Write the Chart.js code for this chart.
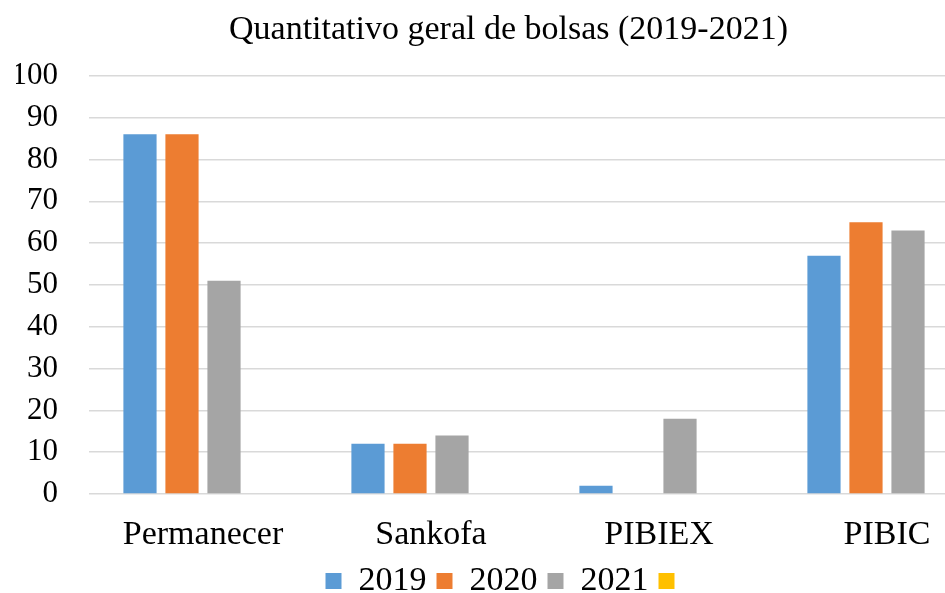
<!DOCTYPE html>
<html>
<head>
<meta charset="utf-8">
<script src="https://cdn.jsdelivr.net/npm/chart.js@4.4.1/dist/chart.umd.min.js"></script>
<style>
  html, body { margin: 0; padding: 0; background: #fff; overflow: hidden; }
  #wrap { width: 945px; height: 593px; overflow: hidden; }
</style>
</head>
<body>
<div id="wrap"><canvas id="myChart" width="1020" height="608"></canvas></div>
<script>
// Data
const categories = ['Permanecer', 'Sankofa', 'PIBIEX', 'PIBIC'];
const years = ['2019', '2020', '2021', ''];
const values2019 = [86, 12, 2, 57];
const values2020 = [86, 12, 0, 65];
const values2021 = [51, 14, 18, 63];
const valuesExtra = [null, null, null, null];
const yTicks = [0, 10, 20, 30, 40, 50, 60, 70, 80, 90, 100];

const colors = ['#5B9BD5', '#ED7D31', '#A5A5A5', '#FFC000'];
const serif = "'Liberation Serif', 'DejaVu Serif', serif";

const ctx = document.getElementById('myChart').getContext('2d');

new Chart(ctx, {
    type: 'bar',
    data: {
        labels: categories,
        datasets: [values2019, values2020, values2021, valuesExtra].map((vals, i) => ({
            label: years[i],
            data: vals,
            backgroundColor: colors[i],
            borderWidth: 0,
            barPercentage: 0.79,
            categoryPercentage: 0.737
        }))
    },
    options: {
        responsive: false,
        animation: false,
        layout: { padding: { left: 16, right: 19, top: 0, bottom: 0 } },
        scales: {
            x: {
                afterFit: axis => { axis.height = 60; },
                grid: { display: false },
                border: { display: false },
                ticks: { color: '#000', font: { family: serif, size: 34 }, padding: 13 }
            },
            y: {
                min: 0,
                max: 100,
                afterBuildTicks: axis => { axis.ticks = yTicks.map(v => ({ value: v })); },
                afterFit: axis => { axis.width = 73; },
                grid: { color: '#d9d9d9', lineWidth: 1.5, drawTicks: false },
                border: { display: false },
                ticks: { color: '#000', font: { family: serif, size: 31 }, padding: 31 }
            }
        },
        plugins: {
            title: {
                display: true,
                text: 'Quantitativo geral de bolsas (2019-2021)',
                color: '#000',
                font: { family: serif, size: 34, weight: 'normal' },
                padding: { top: 10, bottom: 25 }
            },
            legend: {
                position: 'bottom',
                labels: {
                    color: '#000',
                    font: { family: serif, size: 34 },
                    boxWidth: 16,
                    boxHeight: 16,
                    padding: 10
                }
            },
            tooltip: { enabled: false }
        }
    }
});
</script>
</body>
</html>
